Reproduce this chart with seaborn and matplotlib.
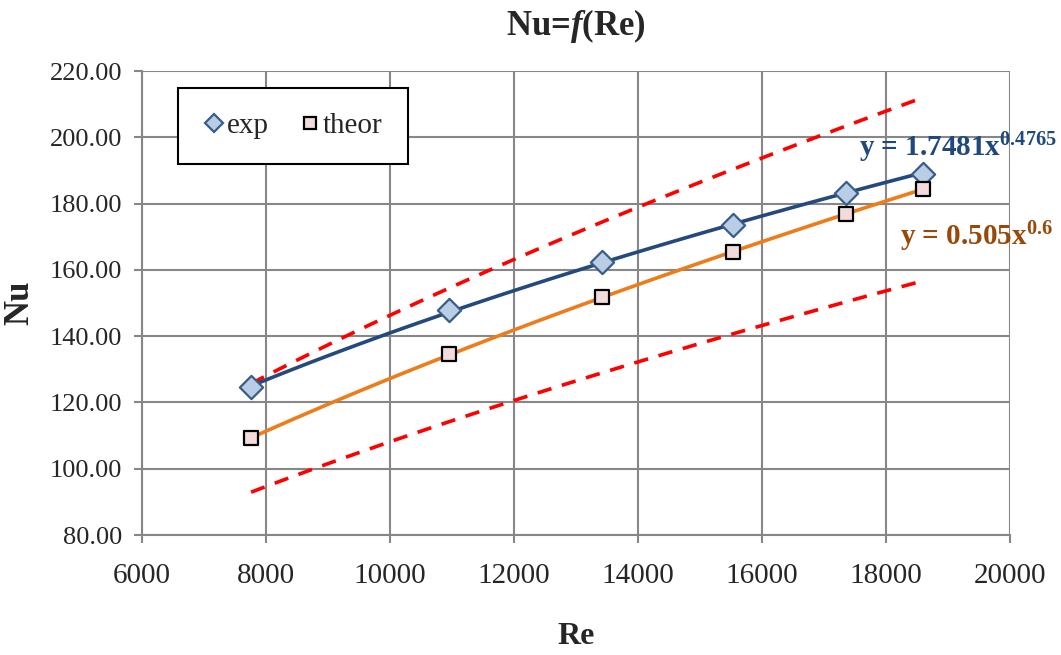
import numpy as np
import pandas as pd
import matplotlib
matplotlib.use('Agg')
from matplotlib import pyplot as plt
from matplotlib.lines import Line2D
import seaborn as sns

# data
re_vals = [7760, 10950, 13420, 15530, 17350, 18600]
nu_exp = [124.6, 147.8, 162.4, 173.6, 183.2, 189.0]
nu_theor = [109.2, 134.5, 151.8, 165.4, 176.8, 184.3]
eq_exp = r'y = 1.7481x$^{0.4765}$'
eq_theor = r'y = 0.505x$^{0.6}$'
x_ticks = [6000, 8000, 10000, 12000, 14000, 16000, 18000, 20000]
y_ticks = [80, 100, 120, 140, 160, 180, 200, 220]

sns.set_style("white")
plt.rcParams['font.family'] = ['Liberation Serif', 'DejaVu Serif']
plt.rcParams['mathtext.fontset'] = 'custom'
plt.rcParams['mathtext.rm'] = 'Liberation Serif:bold'
plt.rcParams['mathtext.it'] = 'Liberation Serif:italic:bold'
plt.rcParams['mathtext.bf'] = 'Liberation Serif:bold'

df = pd.DataFrame({'Re': re_vals * 2,
                   'Nu': nu_exp + nu_theor,
                   'kind': ['exp'] * len(re_vals) + ['theor'] * len(re_vals)})


def power_fit(x, y):
    b, ln_a = np.polyfit(np.log(x), np.log(y), 1)
    return np.exp(ln_a), b


xs = np.linspace(min(re_vals), max(re_vals), 120)
a1, b1 = power_fit(re_vals, nu_exp)
a2, b2 = power_fit(re_vals, nu_theor)
fit_exp = a1 * xs ** b1
fit_theor = a2 * xs ** b2

fig = plt.figure(figsize=(10.61, 6.55), dpi=100)
ax = fig.add_axes([0.1338, 0.1832, 0.8182, 0.7084])

grid_c = '#878787'
sns.lineplot(x=xs, y=fit_theor * 1.15, ax=ax, color='#ff0000', lw=2.6, dashes=(4, 3), zorder=2)
sns.lineplot(x=xs, y=fit_theor * 0.85, ax=ax, color='#ff0000', lw=2.6, dashes=(4, 3), zorder=2)
sns.lineplot(x=xs, y=fit_exp, ax=ax, color='#24497c', lw=2.6, zorder=3)
sns.lineplot(x=xs, y=fit_theor, ax=ax, color='#ed7d1a', lw=2.6, zorder=3)

sns.scatterplot(data=df[df.kind == 'exp'], x='Re', y='Nu', ax=ax, marker='D', s=140,
                color='#b9cde5', edgecolor='#385d8a', linewidth=1.6, zorder=4)
sns.scatterplot(data=df[df.kind == 'theor'], x='Re', y='Nu', ax=ax, marker='s', s=105,
                color='#f2dcdb', edgecolor='black', linewidth=1.6, zorder=4)

ax.set_xlim(6000, 20000)
ax.set_ylim(80, 220)
ax.set_xticks(x_ticks)
ax.set_yticks(y_ticks)
ax.set_yticklabels([f'{v:.2f}' for v in y_ticks])
ax.grid(True, color=grid_c, lw=1.5)
ax.set_axisbelow(True)
for side in ['top', 'right']:
    ax.spines[side].set_visible(False)
for side in ['left', 'bottom']:
    ax.spines[side].set_color(grid_c)
    ax.spines[side].set_linewidth(1.5)
ax.tick_params(axis='both', which='major', direction='out', length=6, width=1.5,
               color=grid_c, labelsize=19, pad=8, left=True, bottom=True)
ax.tick_params(axis='x', pad=14, labelsize=21)

ax.set_xlabel('Re', fontsize=23, fontweight='bold', labelpad=24)
ax.set_ylabel('Nu', fontsize=25, fontweight='bold', labelpad=10)
ax.set_title(r'Nu=$\mathit{f}$(Re)', fontsize=25, fontweight='bold', pad=26)

ax.text(17570, 196.8, eq_exp, color='#1f497d', fontsize=21, fontweight='bold',
        va='center', ha='left', clip_on=False)
ax.text(18230, 169.9, eq_theor, color='#984807', fontsize=21, fontweight='bold',
        va='center', ha='left', clip_on=False)

handles = [Line2D([], [], marker='D', ls='none', ms=9, mfc='#b9cde5', mec='#385d8a', mew=1.6),
           Line2D([], [], marker='s', ls='none', ms=9, mfc='#f2dcdb', mec='black', mew=1.6)]
leg = ax.legend(handles, ['exp', 'theor'], loc='upper left', bbox_to_anchor=(0.041, 0.963),
                ncol=2, fontsize=21, frameon=True, fancybox=False, framealpha=1,
                handlelength=0.8, handletextpad=0.05, columnspacing=1.0,
                borderpad=0.85, borderaxespad=0)
leg.get_frame().set_edgecolor('black')
leg.get_frame().set_linewidth(1.5)

fig.savefig('out.png', dpi=100)
